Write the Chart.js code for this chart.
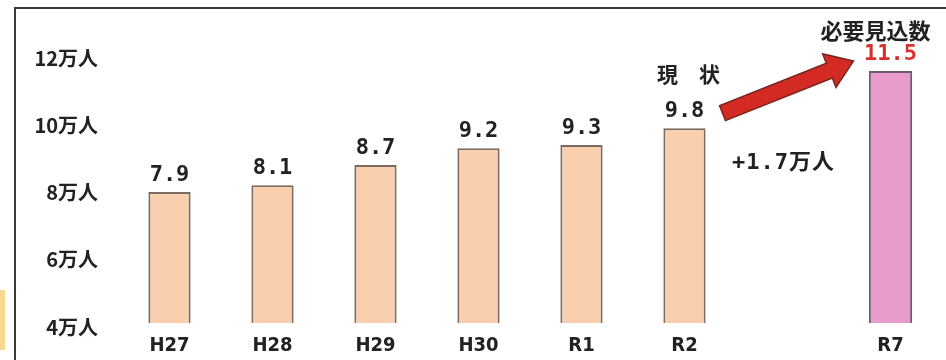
<!DOCTYPE html>
<html lang="ja">
<head>
  <meta charset="UTF-8">
  <title>必要見込数</title>
  <script src="https://cdn.jsdelivr.net/npm/chart.js"></script>
  <style>
    html, body { margin: 0; padding: 0; background: #fff; }
    .wrap { position: relative; width: 946px; height: 360px; overflow: hidden; }
    .frame { position: absolute; left: 14px; top: 7px; width: 940px; height: 360px;
             border-top: 2px solid #3a3a3a; border-left: 2px solid #3a3a3a; }
    .tab { position: absolute; left: 0; top: 290px; width: 5px; height: 60px; background: #f7d98c; }
    canvas { position: absolute; left: 0; top: 0; }
  </style>
</head>
<body>
  <div class="wrap">
    <div class="frame"></div>
    <div class="tab"></div>
    <canvas id="c" width="946" height="360"></canvas>
  </div>
  <script>
    // 年度（R2とR7の間は空き）
    const years = ['H27', 'H28', 'H29', 'H30', 'R1', 'R2', '', 'R7'];
    // 人数（万人）
    const actual = [7.9, 8.1, 8.7, 9.2, 9.3, 9.8, null, null];
    const needed = [null, null, null, null, null, null, null, 11.5];
    const yTicks = [4, 6, 8, 10, 12];

    const jp = '"Noto Sans CJK JP", "Noto Sans", sans-serif';
    const mono = '"DejaVu Sans Mono", "Noto Sans CJK JP", monospace';

    const labelPlugin = {
      id: 'labels',
      afterDatasetsDraw(chart) {
        const ctx = chart.ctx;
        const xs = chart.scales.x, ys = chart.scales.y;
        ctx.save();
        ctx.textAlign = 'center';
        ctx.textBaseline = 'middle';
        // bar values
        chart.data.datasets.forEach((ds, di) => {
          chart.getDatasetMeta(di).data.forEach((bar, i) => {
            const v = ds.data[i];
            if (v == null) return;
            ctx.font = 'bold 22px ' + mono;
            ctx.fillStyle = di === 1 ? '#d8302c' : '#222';
            ctx.fillText(v.toFixed(1), bar.x, bar.y - 17);
          });
        });
        const x2 = xs.getPixelForValue(5), x7 = xs.getPixelForValue(7);
        const y98 = ys.getPixelForValue(actual[5]);
        const y115 = ys.getPixelForValue(needed[7]);
        ctx.fillStyle = '#222';
        ctx.font = 'bold 22px ' + jp;
        ctx.fillText('必要見込数', x7 - 15, y115 - 40);
        ctx.font = 'bold 21px ' + jp;
        ctx.fillText('現　状', x2 + 4, y98 - 54);
        ctx.font = 'bold 22px ' + mono;
        ctx.letterSpacing = '1px';
        ctx.fillText('+1.7万人', (x2 + x7) / 2 - 4, y98 + 35);
        ctx.letterSpacing = '0px';

        // red arrow
        const tx = x2 + 38, ty = y98 - 15;
        const hx = x7 - 37, hy = y115 - 10;
        const ang = Math.atan2(hy - ty, hx - tx);
        const len = Math.hypot(hx - tx, hy - ty);
        const sw = 8, hw = 18, hl = 26;
        ctx.translate(tx, ty);
        ctx.rotate(ang);
        ctx.beginPath();
        ctx.moveTo(0, -sw);
        ctx.lineTo(len - hl, -sw);
        ctx.lineTo(len - hl, -hw);
        ctx.lineTo(len, 0);
        ctx.lineTo(len - hl, hw);
        ctx.lineTo(len - hl, sw);
        ctx.lineTo(0, sw);
        ctx.closePath();
        ctx.fillStyle = '#d42a24';
        ctx.fill();
        ctx.lineWidth = 1.5;
        ctx.strokeStyle = '#7a2420';
        ctx.stroke();
        ctx.restore();
      }
    };

    new Chart(document.getElementById('c'), {
      type: 'bar',
      data: {
        labels: years,
        datasets: [
          { data: actual, backgroundColor: '#f9cfae', borderColor: '#7a6a62', borderWidth: 2,
            barPercentage: 0.41, categoryPercentage: 1, grouped: false },
          { data: needed, backgroundColor: '#e89ccb', borderColor: '#6f5a72', borderWidth: 2,
            barPercentage: 0.42, categoryPercentage: 1, grouped: false }
        ]
      },
      options: {
        responsive: false,
        animation: false,
        layout: { padding: { top: 10, right: 4, left: 0, bottom: 0 } },
        plugins: { legend: { display: false }, tooltip: { enabled: false } },
        scales: {
          x: {
            grid: { display: false }, border: { display: false },
            ticks: { color: '#222', font: { family: '"DejaVu Sans Condensed", ' + jp, size: 20, weight: 'bold' }, padding: 3 },
            afterFit(s) { s.height = 37; }
          },
          y: {
            min: 4, max: 12.9,
            grid: { display: false }, border: { display: false },
            afterBuildTicks(s) { s.ticks = yTicks.map(v => ({ value: v })); },
            ticks: { color: '#222', padding: 12, labelOffset: 4, font: { family: jp, size: 20, weight: 'bold' },
                     callback: v => v + '万人' },
            afterFit(s) { s.width = 118; }
          }
        }
      },
      plugins: [labelPlugin]
    });
  </script>
</body>
</html>
